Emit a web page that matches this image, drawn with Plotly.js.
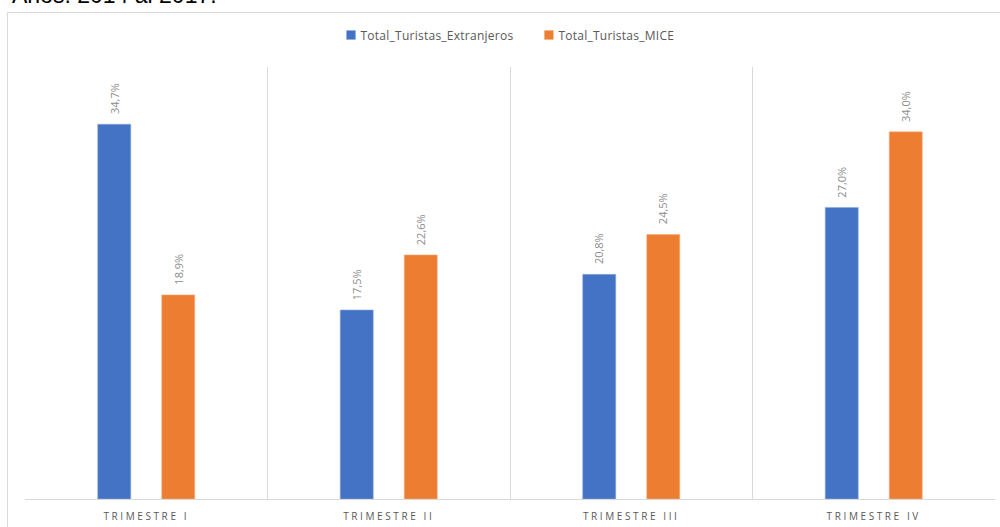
<!DOCTYPE html>
<html>
<head>
<meta charset="utf-8">
<script src="https://cdn.plot.ly/plotly-3.0.1.min.js"></script>
<style>
  html, body { margin: 0; padding: 0; background: #fff; }
  #chart { width: 1000px; height: 527px; }
  .xtick text { letter-spacing: 2.6px; }
  .legendtext { letter-spacing: 0.25px; }
  .legend .legendpoints { transform: translate(15.5px, 0) scale(0.75); }
</style>
</head>
<body>
<div id="chart"></div>
<script>
// Quarterly share of foreign tourists vs. MICE tourists (%)
const categories = ['TRIMESTRE I', 'TRIMESTRE II', 'TRIMESTRE III', 'TRIMESTRE IV'];
const extranjeros = [34.7, 17.5, 20.8, 27.0];
const mice = [18.9, 22.6, 24.5, 34.0];
const seriesNames = ['Total_Turistas_Extranjeros', 'Total_Turistas_MICE'];
const heading = 'Años: 2014 al 2017.';

const BLUE = '#4472C4';
const ORANGE = '#ED7D31';
const GRID = '#d9d9d9';

const fmt = v => v.toFixed(1).replace('.', ',') + '%';

const traces = [
  { type: 'bar', name: seriesNames[0], x: categories, y: extranjeros,
    marker: { color: BLUE, line: { color: '#8faadc', width: 0.6 } }, hoverinfo: 'none' },
  { type: 'bar', name: seriesNames[1], x: categories, y: mice,
    marker: { color: ORANGE, line: { color: '#f4b183', width: 0.6 } }, hoverinfo: 'none' }
];

// Rotated value labels sitting above each bar
const labelFont = { family: 'Open Sans, Noto Sans, sans-serif', size: 11, color: '#8c8c8c' };
const valueLabels = [];
[[extranjeros, -32], [mice, 32]].forEach(([vals, shift]) => {
  vals.forEach((v, i) => {
    valueLabels.push({
      x: categories[i], y: v, xref: 'x', yref: 'y',
      xshift: shift, yshift: 8,
      text: fmt(v), textangle: -90, showarrow: false,
      xanchor: 'center', yanchor: 'bottom', font: labelFont
    });
  });
});

valueLabels.push({
  xref: 'paper', yref: 'paper', x: -0.0155, y: 1.132,
  xanchor: 'left', yanchor: 'bottom', showarrow: false,
  text: heading,
  font: { family: 'Liberation Sans, Arial, sans-serif', size: 23, color: '#000' }
});

const layout = {
  width: 1000, height: 527,
  margin: { l: 25, r: 5, t: 67, b: 28, pad: 0 },
  paper_bgcolor: '#fff', plot_bgcolor: '#fff',
  barmode: 'group', bargap: 0.472, bargroupgap: 0.484,
  showlegend: true,
  legend: {
    orientation: 'h', x: 0.4897, xanchor: 'center', y: 1.074, yanchor: 'middle',
    font: { family: 'Open Sans, Noto Sans, sans-serif', size: 12, color: '#595959' },
    itemwidth: 30, tracegroupgap: 0
  },
  xaxis: {
    type: 'category', tickson: 'boundaries',
    showgrid: true, gridcolor: GRID, gridwidth: 1,
    showline: true, linecolor: GRID, linewidth: 1,
    ticks: '', ticklabelstandoff: 8,
    tickfont: { family: 'Open Sans, Noto Sans, sans-serif', size: 10, color: '#595959' },
    fixedrange: true
  },
  yaxis: {
    range: [0, 40], showgrid: false, zeroline: false, showline: false,
    showticklabels: false, ticks: '', fixedrange: true
  },
  shapes: [{
    type: 'rect', xref: 'paper', yref: 'paper',
    x0: -0.018, x1: 1.1, y0: -0.2, y1: 1.1262,
    line: { color: GRID, width: 1 }, fillcolor: 'rgba(0,0,0,0)', layer: 'below'
  }],
  annotations: valueLabels
};

Plotly.newPlot('chart', traces, layout, { displayModeBar: false, staticPlot: true });
</script>
</body>
</html>
